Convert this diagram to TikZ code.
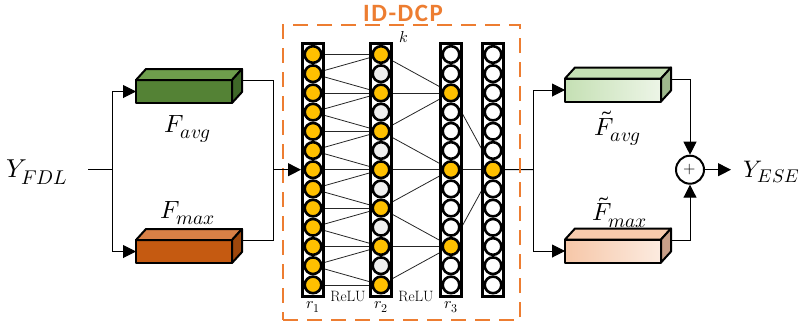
\documentclass[tikz,border=0pt]{standalone}
\usepackage{fontspec}
\usepackage{unicode-math}
\setmathfont{Latin Modern Math}
\DeclareMathSizes{25}{25}{19.5}{15}
\DeclareMathSizes{26}{26}{20}{16}
\DeclareMathSizes{24}{24}{18.5}{14}
\DeclareMathSizes{16}{16}{12}{10}
\newfontfamily\titlefont{Carlito}
\usetikzlibrary{arrows.meta,calc,backgrounds}
\definecolor{gold}{HTML}{FFC000}
\definecolor{lgray}{HTML}{EFEFEF}
\definecolor{dcporange}{HTML}{ED7D31}
\definecolor{gfront}{HTML}{548235}
\definecolor{gtop}{HTML}{6E9E4C}
\definecolor{gside}{HTML}{3F6828}
\definecolor{ofront}{HTML}{C55A11}
\definecolor{otop}{HTML}{D98046}
\definecolor{oside}{HTML}{9E470C}
\definecolor{lgL}{HTML}{C5E0B4}
\definecolor{lgM}{HTML}{B7D7A2}
\definecolor{lgR}{HTML}{EDF5E7}
\definecolor{lgtop}{HTML}{C5E0B4}
\definecolor{lgside}{HTML}{9FB98D}
\definecolor{pkL}{HTML}{F6C7A8}
\definecolor{pkM}{HTML}{F4B48A}
\definecolor{pkR}{HTML}{FCEBE0}
\definecolor{pktop}{HTML}{F8CBAD}
\definecolor{pkside}{HTML}{C9A089}
\tikzset{
  conn/.style={line width=1bp, draw=black},
  arr/.style={-{Triangle[length=13bp,width=13bp]}},
  nnline/.style={line width=0.8bp, draw=black!85},
  bar/.style={draw=black, fill=white, line width=3bp, minimum width=21bp, minimum height=253bp, inner sep=0pt},
  neuron/.style={circle, draw=black, line width=2.6bp, minimum size=16.6bp, inner sep=0pt},
  face/.style={draw=black, line width=2bp, line join=round},
  frontface/.style={face, minimum width=96bp, minimum height=23bp, inner sep=0pt, outer sep=0pt, anchor=north west},
  lbl/.style={font=\fontsize{25}{25}\selectfont, inner sep=0pt},
  biglbl/.style={font=\fontsize{26}{26}\selectfont, inner sep=0pt},
  small/.style={font=\fontsize{16}{16}\selectfont, inner sep=0pt},
  relu/.style={font=\fontsize{15}{15}\selectfont, inner sep=0pt},
  dashbox/.style={draw=dcporange, line width=2.5bp, dash pattern=on 15bp off 9bp, minimum width=237bp, minimum height=295bp, inner sep=0pt},
}
\newcommand{\cubefaces}[3]{%
  \draw[face, fill=#2] (#1.north west) -- ++(10,-11) -- ($(#1.north east)+(10,-11)$) -- (#1.north east) -- cycle;
  \draw[face, fill=#3] (#1.north east) -- ++(10,-11) -- ($(#1.south east)+(10,-11)$) -- (#1.south east) -- cycle;
  \coordinate (#1side) at ($(#1.east)+(10,-11)$);
}
\begin{document}
\begin{tikzpicture}[x=1bp,y=-1bp]
\useasboundingbox (0,0) rectangle (803,326);

% dashed ID-DCP frame
\node[dashbox] (dcp) at (401.5,172.5) {};
\node[text=dcporange, font=\titlefont\bfseries\fontsize{25}{25}\selectfont\addfontfeature{LetterSpace=6}, inner sep=0pt] (title) at (403,13) {ID-DCP};

% bars
\foreach \c/\x in {1/313,2/381,3/451,4/493}
  \node[bar] (bar\c) at (\x,169.7) {};

% neurons
\foreach \i in {1,...,13}
  \node[neuron, fill=gold] (a\i) at (313,{54.5+19.2*(\i-1)}) {};
\foreach \i/\col in {1/gold,2/lgray,3/gold,4/lgray,5/gold,6/lgray,7/gold,8/lgray,9/gold,10/lgray,11/gold,12/lgray,13/gold}
  \node[neuron, fill=\col] (b\i) at (381,{54.5+19.2*(\i-1)}) {};
\foreach \i/\col in {1/white,2/white,3/gold,4/white,5/white,6/white,7/gold,8/white,9/white,10/white,11/gold,12/white,13/white}
  \node[neuron, fill=\col] (c\i) at (451,{54.5+19.2*(\i-1)}) {};
\foreach \i/\col in {1/white,2/white,3/white,4/white,5/white,6/white,7/gold,8/white,9/white,10/white,11/white,12/white,13/white}
  \node[neuron, fill=\col] (d\i) at (493,{54.5+19.2*(\i-1)}) {};

% junctions
\coordinate (js) at (88,169.7);
\coordinate (j1) at (112,169.7);
\coordinate (j2) at (273,169.7);
\coordinate (j3) at (533,169.7);
\coordinate (pout) at (731,169.7);

\begin{pgfonlayer}{background}
  \foreach \i in {1,3,5,7,9,11,13} \draw[nnline] (a\i) -- (b\i);
  \foreach \i in {2,4,6,8,10,12} {
    \pgfmathtruncatemacro{\u}{\i-1}
    \pgfmathtruncatemacro{\v}{\i+1}
    \draw[nnline] (a\i) -- (b\u);
    \draw[nnline] (a\i) -- (b\v);
  }
  \foreach \s/\t in {1/3,3/3,5/3,5/7,7/7,9/7,9/11,11/11,13/11}
    \draw[nnline] (b\s) -- (c\t);
  \foreach \s in {3,7,11} \draw[nnline] (c\s) -- (d7);
  \draw[conn] (d7) -- (j3);
\end{pgfonlayer}

% left cuboids
\node[frontface, fill=gfront] (ga) at (136,80) {};
\cubefaces{ga}{gtop}{gside}
\node[frontface, fill=ofront] (oa) at (136,240) {};
\cubefaces{oa}{otop}{oside}

% right cuboids
\node[frontface, left color=lgL, middle color=lgM, right color=lgR] (gb) at (565,78.5) {};
\cubefaces{gb}{lgtop}{lgside}
\node[frontface, left color=pkL, middle color=pkM, right color=pkR] (ob) at (565,239.5) {};
\cubefaces{ob}{pktop}{pkside}

% sum
\node[circle, draw=black, line width=2bp, minimum size=28bp, inner sep=0pt, font=\fontsize{16}{16}\selectfont] (plus) at (690,169.7) {$+$};

% labels
\node[biglbl] (yfdl) at (37,172) {$Y_{FDL}$};
\node[font=\fontsize{24}{24}\selectfont, inner sep=0pt, anchor=east] (yese) at (800,172) {$Y_{ESE}$};
\node[lbl] (favg) at (188,129) {$F_{avg}$};
\node[lbl] (fmax) at (188,213) {$F_{max}$};
\node[lbl] (tfavg) at (618,128) {$\tilde{F}_{avg}$};
\node[lbl] (tfmax) at (620,212) {$\tilde{F}_{max}$};
\node[small] (klbl) at (404,37) {$k$};
\node[small] (r1) at (313,307) {$r_1$};
\node[small] (r2) at (381,307) {$r_2$};
\node[small] (r3) at (451,307) {$r_3$};
\node[relu] (relu1) at (348,297) {ReLU};
\node[relu] (relu2) at (416,297) {ReLU};

% connectors
\draw[conn] (js) -- (j1);
\draw[conn, arr] (j1) |- (ga.west);
\draw[conn, arr] (j1) |- (oa.west);
\draw[conn] (gaside) -| (j2);
\draw[conn] (oaside) -| (j2);
\draw[conn, arr] (j2) -- (bar1.west);
\draw[conn, arr] (j3) |- (gb.west);
\draw[conn, arr] (j3) |- (ob.west);
\draw[conn, arr] (gbside) -| (plus.north);
\draw[conn, arr] (obside) -| (plus.south);
\draw[conn, arr] (plus.east) -- (pout);
\end{tikzpicture}
\end{document}
